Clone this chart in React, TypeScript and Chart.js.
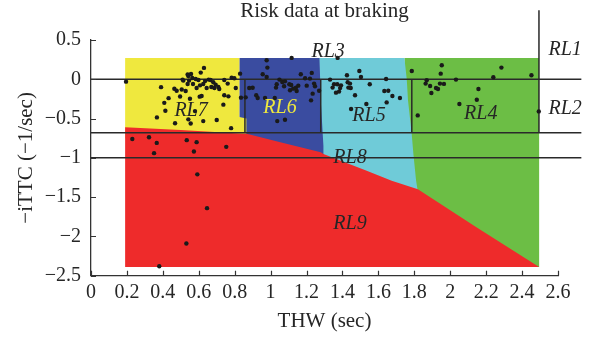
import React, { useEffect, useRef } from "react";
import { Chart, registerables } from "chart.js";

Chart.register(...registerables);

const chartTitle = "Risk data at braking";
const xAxisTitle = "THW (sec)";
const yAxisTitle = "\u2212iTTC (\u22121/sec)";

const xTickLabels = ["0", "0.2", "0.4", "0.6", "0.8", "1", "1.2", "1.4", "1.6", "1.8", "2", "2.2", "2.4", "2.6"];
const yTickLabels = ["\u22122.5", "\u22122", "\u22121.5", "\u22121", "\u22120.5", "0", "0.5"];

// Risk data points (THW, -iTTC)
const riskX = [
  0.195, 0.39, 0.464, 0.477, 0.432, 0.496, 0.408, 0.414, 0.367, 0.468, 0.538, 0.514, 0.629, 0.611, 0.557, 0.542,
  0.564, 0.583, 0.598, 0.546, 0.538, 0.568, 0.588, 0.607, 0.625, 0.635, 0.655, 0.666, 0.681, 0.694, 0.709, 0.687,
  0.714, 0.644, 0.67, 0.742, 0.761, 0.783, 0.798, 0.806, 0.83, 0.765, 0.742, 0.835, 0.737, 0.605, 0.616, 0.551,
  0.579, 0.555, 0.625, 0.7, 0.78, 0.505, 0.527, 0.542, 0.51,
  0.23, 0.323, 0.366, 0.351, 0.533, 0.588, 0.573, 0.753, 0.592, 0.646, 0.531, 0.38,
  1.117, 0.978, 0.982, 0.956, 0.978, 1.049, 1.034, 1.065, 1.075, 1.104, 1.115, 1.141, 1.154, 1.108, 1.145, 1.168,
  1.192, 1.229, 1.219, 1.201, 1.242, 1.247, 1.234, 1.225, 1.023, 1.037, 1.08, 0.861, 0.881, 0.9, 0.92, 0.928,
  0.969, 1.03, 1.08, 1.126,
  1.27, 1.331, 1.353, 1.371, 1.345, 1.364, 1.425, 1.494, 1.503, 1.643, 1.392, 1.387, 1.381, 1.429, 1.442, 1.433,
  1.446, 1.552, 1.47, 1.633, 1.655, 1.678, 1.72, 1.646, 1.533, 1.448, 1.373,
  1.786, 1.953, 1.947, 1.869, 1.863, 1.888, 1.921, 1.932, 1.943, 1.965, 1.895, 2.032, 2.157, 2.148, 2.051, 1.819,
  2.24, 2.285, 2.452, 2.493,
];
const riskY = [
  -0.03, -0.1, -0.12, -0.145, -0.24, -0.22, -0.3, -0.4, -0.485, -0.56, 0.06, -0.017, 0.145, 0.085, 0.068, 0.042,
  0.017, 0.004, -0.009, -0.017, -0.06, -0.06, -0.111, -0.077, -0.06, -0.021, -0.004, -0.009, -0.038, -0.068, -0.098, -0.111,
  -0.124, -0.111, -0.098, -0.009, -0.055, 0.021, 0.013, -0.111, 0.072, -0.217, -0.204, -0.234, -0.323, -0.221, -0.213, -0.247,
  -0.405, -0.562, -0.532, -0.519, -0.622, -0.13, -0.15, -0.51, -0.004,
  -0.76, -0.737, -0.81, -0.94, -0.775, -0.8, -0.92, -0.86, -1.21, -1.64, -2.09, -2.38,
  0.272, 0.243, 0.149, 0.064, 0.03, -0.004, -0.064, -0.034, -0.089, -0.064, -0.072, -0.106, -0.081, -0.14, -0.149, 0.064,
  0.013, 0.081, 0.009, -0.081, -0.055, -0.089, -0.183, -0.268, -0.238, -0.532, -0.515, -0.23, -0.111, -0.107, -0.204, -0.238,
  -0.238, -0.106, -0.026, -0.119,
  -0.145, -0.004, -0.064, -0.064, -0.106, -0.17, 0.051, 0.106, 0.03, 0.004, -0.077, -0.111, -0.157, -0.038, -0.055, -0.106,
  -0.111, -0.064, -0.204, -0.149, -0.145, -0.213, -0.238, -0.294, -0.315, -0.379, 0.272,
  0.106, 0.179, 0.072, -0.013, -0.055, -0.085, -0.111, -0.123, -0.055, -0.059, -0.175, -0.004, -0.123, -0.26, -0.315, -0.46,
  0.026, 0.149, 0.051, -0.409,
];

// Risk-level regions (polygons in data units)
const rl4X = [1.745, 2.495, 2.495, 1.745];
const rl4Y = [0.27, 0.27, -2.39, -2.39];
const rl5X = [1.27, 1.745, 1.758, 1.765, 1.785, 1.795, 1.81, 1.825, 1.27];
const rl5Y = [0.27, 0.27, 0, -0.27, -0.68, -0.95, -1.29, -1.5, -1.5];
const rl6X = [0.826, 1.272, 1.28, 1.294, 1.294, 0.826];
const rl6Y = [0.27, 0.27, -0.3, -0.85, -1.0, -1.0];
const rl7X = [0.19, 0.826, 0.826, 0.865, 0.865, 0.19];
const rl7Y = [0.27, 0.27, -0.48, -0.5, -0.75, -0.75];
const rl9X = [0.19, 0.5, 0.83, 0.867, 1.071, 1.279, 1.294, 1.535, 1.674, 1.82, 2.15, 2.495, 0.19];
const rl9Y = [-0.61, -0.645, -0.69, -0.694, -0.81, -0.928, -0.95, -1.165, -1.29, -1.4, -1.89, -2.39, -2.39];

// Boundary lines
const boundaryX = [[0, 2.73], [0, 2.73], [0, 2.73], [0.857, 0.857], [1.279, 1.279], [1.786, 1.786], [2.494, 2.494]];
const boundaryY = [[0, 0], [-0.68, -0.68], [-1, -1], [0, -0.68], [0, -0.68], [0, -0.68], [0.88, -0.68]];

// Region labels
const labelText = ["RL1", "RL2", "RL3", "RL4", "RL5", "RL6", "RL7", "RL8", "RL9"];
const labelX = [2.64, 2.64, 1.32, 2.17, 1.548, 1.052, 0.557, 1.442, 1.442];
const labelY = [0.37, -0.37, 0.345, -0.435, -0.46, -0.358, -0.396, -1.0, -1.84];

const SERIF = "'Liberation Serif', 'Times New Roman', serif";
const INK = "#262626";
const YELLOW = "#efe83e";

const pts = (xs: number[], ys: number[]) => xs.map((x, i) => ({ x, y: ys[i] }));

const decorPlugin = {
  id: "decor",
  afterDatasetsDraw(chart: any) {
    const { ctx, scales } = chart;
    const x = scales.x;
    const y = scales.y;
    ctx.save();
    ctx.font = `italic 20px ${SERIF}`;
    ctx.textAlign = "center";
    ctx.textBaseline = "middle";
    labelText.forEach((t, i) => {
      ctx.fillStyle = t === "RL6" ? YELLOW : INK;
      ctx.fillText(t, x.getPixelForValue(labelX[i]), y.getPixelForValue(labelY[i]));
    });
    ctx.restore();
  },
  afterDraw(chart: any) {
    const { ctx, chartArea, scales } = chart;
    const x = scales.x;
    const y = scales.y;
    ctx.save();
    ctx.strokeStyle = "#333";
    ctx.lineWidth = 1.2;
    ctx.beginPath();
    x.ticks.forEach((t: any) => {
      const px = Math.round(x.getPixelForValue(t.value)) + 0.5;
      ctx.moveTo(px, chartArea.bottom);
      ctx.lineTo(px, chartArea.bottom - 5);
    });
    y.ticks.forEach((t: any) => {
      const py = Math.round(y.getPixelForValue(t.value)) + 0.5;
      ctx.moveTo(chartArea.left, py);
      ctx.lineTo(chartArea.left + 5, py);
    });
    ctx.stroke();
    ctx.restore();
  },
};

function region(data: any, color: string, order: number) {
  return {
    type: "line",
    data,
    backgroundColor: color,
    borderColor: color,
    borderWidth: 0,
    pointRadius: 0,
    fill: "shape",
    tension: 0,
    order,
  };
}

export default function App() {
  const ref = useRef<HTMLCanvasElement>(null);
  useEffect(() => {
    if (!ref.current) return;
    const lines = boundaryX.map((xs, i) => ({
      type: "line",
      data: pts(xs, boundaryY[i]),
      borderColor: "#2a2a2a",
      borderWidth: 1.5,
      pointRadius: 0,
      fill: false,
      clip: false,
      order: 2,
    }));
    const chart = new Chart(ref.current, {
      type: "scatter",
      data: {
        datasets: [
          {
            type: "scatter",
            data: pts(riskX, riskY),
            backgroundColor: "#1a1a1a",
            borderWidth: 0,
            pointRadius: 2.2,
            order: 1,
          } as any,
          ...lines,
          region(pts(rl9X, rl9Y), "#ee2b2b", 6),
          region(pts(rl7X, rl7Y), YELLOW, 7),
          region(pts(rl6X, rl6Y), "#3a4ca0", 8),
          region(pts(rl5X, rl5Y), "#6fcbd8", 9),
          region(pts(rl4X, rl4Y), "#6cbe45", 10),
        ],
      },
      options: {
        animation: false,
        responsive: false,
        devicePixelRatio: 1,
        events: [],
        layout: { padding: { left: 0, right: 39, top: 0, bottom: 0 } },
        plugins: {
          legend: { display: false },
          tooltip: { enabled: false },
          title: {
            display: true,
            text: chartTitle,
            color: INK,
            fullSize: false,
            font: { family: SERIF, size: 21, weight: "normal", lineHeight: 1 },
            padding: { top: 0.5, bottom: 18.5 },
          },
        },
        scales: {
          x: {
            type: "linear",
            min: 0,
            max: 2.6,
            afterFit: (s: any) => {
              s.height = 65.3;
            },
            ticks: {
              stepSize: 0.2,
              autoSkip: false,
              maxRotation: 0,
              padding: 4.6,
              color: INK,
              font: { family: SERIF, size: 20 },
              callback: (_v: any, i: number) => xTickLabels[i],
            },
            grid: { drawOnChartArea: false, drawTicks: false },
            border: { display: true, color: "#333", width: 1.3 },
            title: {
              display: true,
              text: xAxisTitle,
              color: INK,
              font: { family: SERIF, size: 21 },
              padding: { top: 0, bottom: 7.4 },
            },
          },
          y: {
            type: "linear",
            min: -2.5,
            max: 0.5,
            afterFit: (s: any) => {
              s.width = 91;
            },
            ticks: {
              stepSize: 0.5,
              padding: 10,
              color: INK,
              font: { family: SERIF, size: 20 },
              callback: (_v: any, i: number) => yTickLabels[i],
            },
            grid: { drawOnChartArea: false, drawTicks: false },
            border: { display: true, color: "#333", width: 1.3 },
            title: {
              display: true,
              text: yAxisTitle,
              color: INK,
              font: { family: SERIF, size: 21 },
              padding: { top: 13.4, bottom: 0 },
            },
          },
        },
      } as any,
      plugins: [decorPlugin],
    } as any);
    return () => chart.destroy();
  }, []);
  return (
    <div style={{ position: "fixed", left: 0, top: 0, width: 597, height: 341, background: "#fff" }}>
      <canvas ref={ref} width={597} height={341} style={{ display: "block" }} />
    </div>
  );
}
